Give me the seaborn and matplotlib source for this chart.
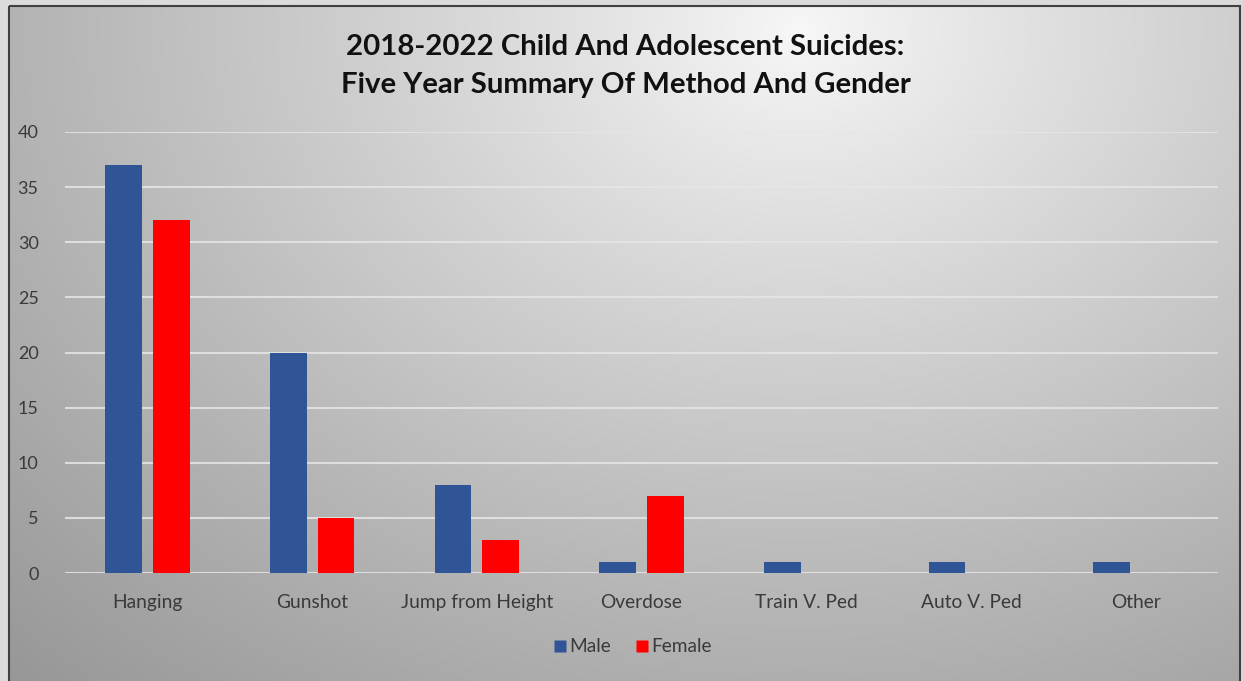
import numpy as np
import pandas as pd
import matplotlib
matplotlib.use("Agg")
import matplotlib.pyplot as plt
import seaborn as sns
from matplotlib.patches import Rectangle
from matplotlib.lines import Line2D

categories = ["Hanging", "Gunshot", "Jump from Height", "Overdose", "Train V. Ped", "Auto V. Ped", "Other"]
male = [37, 20, 8, 1, 1, 1, 1]
female = [32, 5, 3, 7, 0, 0, 0]
series = ["Male", "Female"]
yticks = [0, 5, 10, 15, 20, 25, 30, 35, 40]
title = "2018-2022 Child And Adolescent Suicides:\nFive Year Summary Of Method And Gender"

df = pd.DataFrame({
    "Method": categories * 2,
    "Count": male + female,
    "Gender": ["Male"] * len(categories) + ["Female"] * len(categories),
})

sns.set_theme(style="white")
plt.rcParams["font.family"] = ["Lato", "DejaVu Sans"]

W, H = 1243, 681
fig = plt.figure(figsize=(W / 100, H / 100), dpi=100)

# background gradient
bg = fig.add_axes([0, 0, 1, 1])
bg.set_axis_off()
yy, xx = np.mgrid[0:H, 0:W]
cx, cy = 800, 30
d = np.sqrt(((xx - cx) / 1.0) ** 2 + ((yy - cy) * 1.3) ** 2)
d = d / d.max()
val = 0.97 - 0.38 * d ** 0.9
img = np.dstack([val, val, val])
outer = (xx < 9) | (yy < 6) | (xx > 1240)
img[outer] = [0.86, 0.86, 0.86]
bg.imshow(img, extent=[0, W, H, 0], aspect="auto", interpolation="bilinear")
bg.set_xlim(0, W)
bg.set_ylim(H, 0)
bg.add_patch(Rectangle((9, 6), 1231, 690, fill=False, edgecolor="#404040", linewidth=1.5))

ax = fig.add_axes([65 / W, 1 - 573 / H, (1218 - 65) / W, (573 - 132) / H])
ax.patch.set_alpha(0)
sns.barplot(data=df, x="Method", y="Count", hue="Gender", hue_order=series,
            palette={"Male": "#2F5597", "Female": "#FF0000"},
            width=0.58, gap=0.23, ax=ax, legend=False, saturation=1,
            edgecolor="none")
ax.set_ylim(0, 40)
ax.set_yticks(yticks)
ax.set_xlim(-0.5, len(categories) - 0.5)
for y in yticks:
    ax.axhline(y, color="#E6E6E6", linewidth=1.5, zorder=0, alpha=0.85)
for s in ax.spines.values():
    s.set_visible(False)
ax.set_xlabel("")
ax.set_ylabel("")
ax.tick_params(axis="both", length=0, colors="#3A3A3A")
ax.tick_params(axis="y", pad=19, labelsize=13)
ax.tick_params(axis="x", pad=15, labelsize=13.8)

fig.text(0.5 + 4 / W, 1 - 66 / H, title, ha="center", va="center", fontsize=21.2,
         fontweight="bold", color="#111111", linespacing=1.55)

handles = [Line2D([0], [0], marker="s", linestyle="none", markersize=9, markerfacecolor="#2F5597", markeredgecolor="none"),
           Line2D([0], [0], marker="s", linestyle="none", markersize=9, markerfacecolor="#FF0000", markeredgecolor="none")]
fig.legend(handles, series, loc="center", bbox_to_anchor=(630 / W, 1 - 647 / H), ncol=2,
           frameon=False, fontsize=13.8, handletextpad=-0.1, columnspacing=1.0,
           handlelength=1.2, labelcolor="#3A3A3A")

fig.savefig("out.png", dpi=100)
